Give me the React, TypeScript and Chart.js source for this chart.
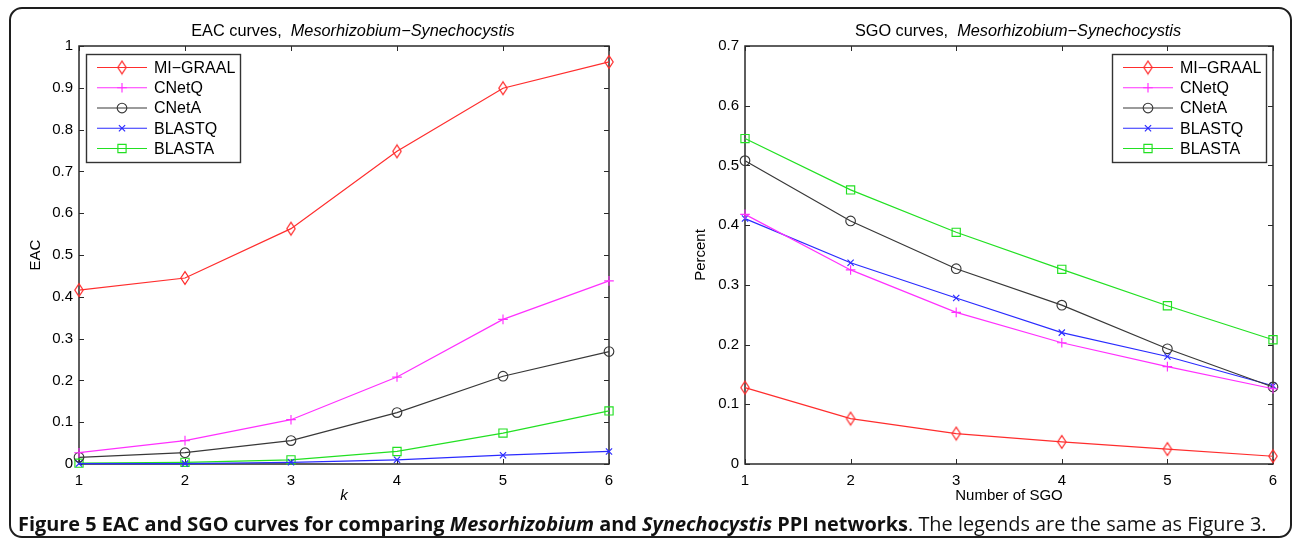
import React, { useEffect, useRef } from 'react';
import { Chart, registerables } from 'chart.js';
import { drawPoint } from 'chart.js/helpers';

Chart.register(...registerables);

// ---------- data ----------
const kValues = ['1', '2', '3', '4', '5', '6'];
const sgoCounts = ['1', '2', '3', '4', '5', '6'];
const seriesNames = ['MI\u2212GRAAL', 'CNetQ', 'CNetA', 'BLASTQ', 'BLASTA'];

const eacMiGraal = [0.416, 0.445, 0.563, 0.748, 0.899, 0.962];
const eacCNetQ = [0.027, 0.056, 0.106, 0.208, 0.346, 0.438];
const eacCNetA = [0.016, 0.027, 0.056, 0.123, 0.21, 0.269];
const eacBlastQ = [0.001, 0.001, 0.004, 0.01, 0.021, 0.03];
const eacBlastA = [0.002, 0.004, 0.01, 0.03, 0.074, 0.127];

const sgoMiGraal = [0.128, 0.076, 0.051, 0.037, 0.025, 0.013];
const sgoCNetQ = [0.418, 0.325, 0.254, 0.203, 0.163, 0.126];
const sgoCNetA = [0.508, 0.407, 0.327, 0.266, 0.193, 0.129];
const sgoBlastQ = [0.411, 0.337, 0.278, 0.22, 0.18, 0.131];
const sgoBlastA = [0.545, 0.459, 0.388, 0.326, 0.265, 0.208];

const eacMax = 1;
const sgoMax = 0.7;
const yStep = 0.1;

// ---------- styles ----------
const seriesColors = ['#ff2d2d', '#ff30ff', '#383838', '#2b2bff', '#22e022'];
const markerKinds = ['diamond', 'cross', 'circle', 'crossRot', 'rect'];
const markerRadii = [6, 4.8, 4.8, 4.4, 5.8];
const FONT = '"Liberation Sans", Arial, Helvetica, sans-serif';

function makeDiamond(color: string) {
  const c = document.createElement('canvas');
  c.width = 12;
  c.height = 16;
  const g = c.getContext('2d')!;
  g.strokeStyle = color;
  g.lineWidth = 1.2;
  g.beginPath();
  g.moveTo(6, 1.6);
  g.lineTo(10.2, 8);
  g.lineTo(6, 14.4);
  g.lineTo(1.8, 8);
  g.closePath();
  g.stroke();
  return c;
}

function buildDatasets(series: number[][]) {
  return series.map((data, i) => ({
    label: seriesNames[i],
    data,
    borderColor: seriesColors[i],
    borderWidth: 1.2,
    pointStyle: markerKinds[i] === 'diamond' ? makeDiamond(seriesColors[i]) : markerKinds[i],
    pointRadius: markerRadii[i],
    pointHoverRadius: markerRadii[i],
    pointBorderColor: seriesColors[i],
    pointBackgroundColor: 'rgba(0,0,0,0)',
    pointBorderWidth: 1.15,
    tension: 0,
    fill: false,
    clip: false as any,
  }));
}

// ---------- plugins ----------
const framePlugin = {
  id: 'matlabFrame',
  beforeDatasetsDraw(chart: any) {
    const { ctx, chartArea: a, scales } = chart;
    const xs = scales.x;
    const ys = scales.y;
    ctx.save();
    ctx.strokeStyle = '#2a2a2a';
    ctx.lineWidth = 1.5;
    ctx.strokeRect(a.left, a.top, a.right - a.left, a.bottom - a.top);
    ctx.lineWidth = 1;
    ctx.beginPath();
    const tl = 5;
    xs.ticks.forEach((_t: any, i: number) => {
      const px = Math.round(xs.getPixelForTick(i)) + 0.5;
      ctx.moveTo(px, a.bottom);
      ctx.lineTo(px, a.bottom - tl);
      ctx.moveTo(px, a.top);
      ctx.lineTo(px, a.top + tl);
    });
    ys.ticks.forEach((_t: any, i: number) => {
      const py = Math.round(ys.getPixelForTick(i)) + 0.5;
      ctx.moveTo(a.left, py);
      ctx.lineTo(a.left + tl, py);
      ctx.moveTo(a.right, py);
      ctx.lineTo(a.right - tl, py);
    });
    ctx.stroke();
    ctx.restore();
  },
};

const splitTitlePlugin = {
  id: 'splitTitle',
  afterDraw(chart: any, _args: any, opts: any) {
    const { ctx, chartArea: a } = chart;
    ctx.save();
    ctx.fillStyle = '#000';
    ctx.textBaseline = 'alphabetic';
    const fNormal = `16.3px ${FONT}`;
    const fItalic = `italic 16.3px ${FONT}`;
    ctx.font = fNormal;
    const w1 = ctx.measureText(opts.normal).width;
    ctx.font = fItalic;
    const w2 = ctx.measureText(opts.italic).width;
    const x0 = (a.left + a.right) / 2 - (w1 + w2) / 2 + 9;
    const y = a.top - 10.5;
    ctx.font = fNormal;
    ctx.fillText(opts.normal, x0, y);
    ctx.font = fItalic;
    ctx.fillText(opts.italic, x0 + w1, y);
    ctx.restore();
  },
};

const insetLegendPlugin = {
  id: 'insetLegend',
  afterDraw(chart: any, _args: any, opts: any) {
    const { ctx, chartArea: a } = chart;
    const w = 154;
    const h = 108;
    const left = opts.side === 'left' ? a.left + 7 : a.right - 7 - w;
    const top = a.top + 8;
    ctx.save();
    ctx.fillStyle = '#fff';
    ctx.fillRect(left, top, w, h);
    ctx.strokeStyle = '#333';
    ctx.lineWidth = 1.4;
    ctx.strokeRect(left + 0.5, top + 0.5, w, h);
    chart.data.datasets.forEach((ds: any, i: number) => {
      const y = top + 13.5 + i * 20.25;
      ctx.strokeStyle = ds.borderColor;
      ctx.lineWidth = 1.2;
      ctx.beginPath();
      ctx.moveTo(left + 11, y);
      ctx.lineTo(left + 61, y);
      ctx.stroke();
      ctx.fillStyle = 'rgba(0,0,0,0)';
      ctx.strokeStyle = ds.pointBorderColor;
      ctx.lineWidth = ds.pointBorderWidth;
      drawPoint(ctx, { pointStyle: ds.pointStyle, radius: ds.pointRadius, borderWidth: ds.pointBorderWidth, rotation: 0 } as any, left + 36, y);
      ctx.fillStyle = '#000';
      ctx.font = `16px ${FONT}`;
      ctx.textBaseline = 'middle';
      ctx.textAlign = 'left';
      ctx.fillText(ds.label, left + 68, y + 1);
    });
    ctx.restore();
  },
};

function makeConfig(opts: {
  labels: string[];
  series: number[][];
  yMax: number;
  yWidth: number;
  yTitle: string;
  yTitlePad: number;
  xTitle: string;
  xItalic: boolean;
  padRight: number;
  legendSide: string;
  titleNormal: string;
  titleItalic: string;
}): any {
  return {
    type: 'line',
    data: { labels: opts.labels, datasets: buildDatasets(opts.series) },
    plugins: [framePlugin, splitTitlePlugin, insetLegendPlugin],
    options: {
      responsive: false,
      animation: false,
      devicePixelRatio: 1,
      layout: { padding: { top: 38, right: opts.padRight, bottom: 0, left: 0 } },
      plugins: {
        legend: { display: false },
        title: { display: false },
        tooltip: { enabled: false },
        splitTitle: { normal: opts.titleNormal, italic: opts.titleItalic },
        insetLegend: { side: opts.legendSide },
      },
      scales: {
        x: {
          type: 'category',
          offset: false,
          grid: { display: false, drawTicks: false },
          border: { display: false },
          ticks: {
            autoSkip: false,
            maxRotation: 0,
            padding: 8,
            color: '#000',
            font: { family: FONT, size: 15 },
          },
          title: {
            display: true,
            text: opts.xTitle,
            color: '#000',
            font: { family: FONT, size: 15, style: opts.xItalic ? 'italic' : 'normal' },
            padding: { top: 0, bottom: 8 },
          },
          afterFit: (s: any) => {
            s.height = 49;
          },
        },
        y: {
          type: 'linear',
          min: 0,
          max: opts.yMax,
          grid: { display: false, drawTicks: false },
          border: { display: false },
          ticks: {
            stepSize: yStep,
            padding: 6,
            color: '#000',
            font: { family: FONT, size: 15 },
            callback: (v: any) => String(Math.round(Number(v) * 10) / 10),
          },
          title: {
            display: true,
            text: opts.yTitle,
            color: '#000',
            font: { family: FONT, size: 15 },
            padding: { top: opts.yTitlePad, bottom: 0 },
          },
          afterFit: (s: any) => {
            s.width = opts.yWidth;
          },
        },
      },
    },
  };
}

function LineChart(props: { config: any; left: number; top: number; width: number; height: number }) {
  const ref = useRef<HTMLCanvasElement | null>(null);
  useEffect(() => {
    if (!ref.current) return;
    const chart = new Chart(ref.current, props.config);
    return () => chart.destroy();
  }, []);
  return (
    <canvas
      ref={ref}
      width={props.width}
      height={props.height}
      style={{ position: 'absolute', left: props.left, top: props.top, width: props.width, height: props.height }}
    />
  );
}

export default function App() {
  const eacConfig = makeConfig({
    labels: kValues,
    series: [eacMiGraal, eacCNetQ, eacCNetA, eacBlastQ, eacBlastA],
    yMax: eacMax,
    yWidth: 69,
    yTitle: 'EAC',
    yTitlePad: 17,
    xTitle: 'k',
    xItalic: true,
    padRight: 31,
    legendSide: 'left',
    titleNormal: 'EAC curves,  ',
    titleItalic: 'Mesorhizobium\u2212Synechocystis',
  });
  const sgoConfig = makeConfig({
    labels: sgoCounts,
    series: [sgoMiGraal, sgoCNetQ, sgoCNetA, sgoBlastQ, sgoBlastA],
    yMax: sgoMax,
    yWidth: 95,
    yTitle: 'Percent',
    yTitlePad: 42,
    xTitle: 'Number of SGO',
    xItalic: false,
    padRight: 16,
    legendSide: 'right',
    titleNormal: 'SGO curves,  ',
    titleItalic: 'Mesorhizobium\u2212Synechocystis',
  });

  return (
    <div style={{ position: 'absolute', left: 0, top: 0, width: 1292, height: 547, background: '#fff', overflow: 'hidden' }}>
      <LineChart config={eacConfig} left={10} top={8} width={630} height={505} />
      <LineChart config={sgoConfig} left={650} top={8} width={639} height={505} />
      <div
        style={{
          position: 'absolute',
          left: 9,
          top: 7,
          width: 1283,
          height: 531,
          border: '2px solid #1e1e1e',
          borderRadius: 13,
          boxSizing: 'border-box',
          pointerEvents: 'none',
        }}
      />
      <div
        style={{
          position: 'absolute',
          left: 18,
          top: 512,
          whiteSpace: 'nowrap',
          fontFamily: '"Open Sans", "Noto Sans", sans-serif',
          fontSize: 19.9,
          lineHeight: '24px',
          color: '#111',
        }}
      >
        <b>
          Figure 5 EAC and SGO curves for comparing <i>Mesorhizobium</i> and <i>Synechocystis</i> PPI networks
        </b>
        . The legends are the same as Figure 3.
      </div>
    </div>
  );
}
